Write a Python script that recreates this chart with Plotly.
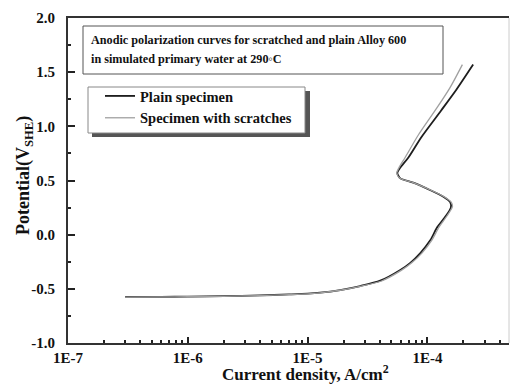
import numpy as np
import plotly.graph_objects as go

# ---- data ----
plain_i = [3.0e-7, 6e-7, 1e-6, 2e-6, 4e-6, 7e-6, 1e-5, 1.27e-5, 1.87e-5, 2.75e-5, 4.04e-5,
           5.94e-5, 7.2e-5, 8.73e-5, 1.06e-4, 1.21e-4, 1.40e-4, 1.57e-4, 1.55e-4, 1.36e-4,
           1.06e-4, 7.62e-5, 5.94e-5, 5.61e-5, 5.94e-5, 6.92e-5, 8.9e-5, 1.29e-4,
           1.75e-4, 2.41e-4]
plain_v = [-0.575, -0.574, -0.572, -0.568, -0.561, -0.552, -0.545, -0.536, -0.511, -0.474, -0.425,
           -0.326, -0.26, -0.17, -0.05, 0.07, 0.16, 0.25, 0.30, 0.35,
           0.41, 0.48, 0.52, 0.57, 0.62, 0.71, 0.90, 1.14,
           1.34, 1.57]

scr_i = [3.0e-7, 6e-7, 1e-6, 2e-6, 4e-6, 7e-6, 1e-5, 1.27e-5, 1.87e-5, 2.75e-5, 4.1e-5,
         6.05e-5, 7.4e-5, 9.0e-5, 1.09e-4, 1.25e-4, 1.45e-4, 1.62e-4, 1.58e-4, 1.38e-4,
         1.07e-4, 7.6e-5, 5.9e-5, 5.55e-5, 5.8e-5, 6.5e-5, 8.4e-5, 1.2e-4,
         1.55e-4, 1.96e-4]
scr_v = [-0.577, -0.575, -0.573, -0.569, -0.562, -0.553, -0.546, -0.537, -0.513, -0.477, -0.43,
         -0.33, -0.26, -0.17, -0.05, 0.07, 0.17, 0.26, 0.30, 0.35,
         0.41, 0.48, 0.52, 0.57, 0.62, 0.71, 0.92, 1.17,
         1.36, 1.57]

x_tick_vals = [1e-7, 1e-6, 1e-5, 1e-4]
x_tick_text = ["1E-7", "1E-6", "1E-5", "1E-4"]
y_tick_vals = [-1.0, -0.5, 0.0, 0.5, 1.0, 1.5, 2.0]
y_tick_text = ["-1.0", "-0.5", "0.0", "0.5", "1.0", "1.5", "2.0"]

title_lines = ["Anodic polarization curves for scratched and plain Alloy 600",
               "in simulated primary water at 290\u25e6C"]
series_names = ["Plain specimen", "Specimen with scratches"]
x_title = "Current density, A/cm<sup>2</sup>"
y_title = "Potential(V<sub>SHE</sub>)"

FONT = "Liberation Serif, Times New Roman, serif"

minor_x = [m * 10.0 ** e for e in range(-7, -3) for m in range(2, 10)]
minor_x = [v for v in minor_x if v < 4.9e-4]

fig = go.Figure()
fig.add_trace(go.Scatter(x=plain_i, y=plain_v, mode="lines", name="<b>%s</b>" % series_names[0],
                         line=dict(color="#1e1e1e", width=1.8, shape="spline", smoothing=0.7),
                         legendgroup="a"))
fig.add_trace(go.Scatter(x=scr_i, y=scr_v, mode="lines", name="<b>%s</b>" % series_names[1],
                         line=dict(color="#a0a0a0", width=1.3, shape="spline", smoothing=0.7),
                         legendgroup="b"))

def px2x(px):
    return (px - 68) / 441.0

def px2y(py):
    return (343 - py) / 325.0

shapes = [
    dict(type="rect", xref="paper", yref="paper", x0=px2x(83), x1=px2x(443),
         y0=px2y(74), y1=px2y(26), line=dict(color="#555", width=1), fillcolor="white", layer="below"),
    dict(type="rect", xref="paper", yref="paper", x0=px2x(92), x1=px2x(310),
         y0=px2y(137), y1=px2y(91), line=dict(width=0), fillcolor="#555", layer="below"),
    dict(type="rect", xref="paper", yref="paper", x0=px2x(88), x1=px2x(305),
         y0=px2y(133), y1=px2y(87), line=dict(color="#888", width=1), fillcolor="white", layer="below"),
    dict(type="line", xref="paper", yref="paper", x0=1, x1=1, y0=0, y1=1,
         line=dict(color="#cccccc", width=1)),
]

annotations = [
    dict(text="<b>%s</b>" % title_lines[0], xref="paper", yref="paper", x=px2x(89), y=px2y(40),
         xanchor="left", yanchor="middle", showarrow=False,
         font=dict(family=FONT, size=12.2, color="#111")),
    dict(text="<b>%s</b>" % title_lines[1], xref="paper", yref="paper", x=px2x(89), y=px2y(59),
         xanchor="left", yanchor="middle", showarrow=False,
         font=dict(family=FONT, size=12.2, color="#111")),
    dict(text="<b>%s</b>" % x_title, xref="paper", yref="paper", x=px2x(305), y=px2y(373),
         xanchor="center", yanchor="middle", showarrow=False,
         font=dict(family=FONT, size=17, color="#111")),
    dict(text="<b>%s</b>" % y_title, xref="paper", yref="paper", x=px2x(24), y=px2y(176),
         xanchor="center", yanchor="middle", showarrow=False, textangle=-90,
         font=dict(family=FONT, size=18, color="#111")),
]

fig.update_layout(
    width=510, height=387,
    margin=dict(l=68, r=1, t=18, b=44),
    paper_bgcolor="white", plot_bgcolor="white",
    showlegend=True,
    legend=dict(x=px2x(100), y=px2y(80), xanchor="left", yanchor="top",
                bgcolor="rgba(0,0,0,0)", borderwidth=0, itemwidth=30,
                traceorder="grouped", tracegroupgap=0,
                font=dict(family=FONT, size=14.5, color="#111")),
    shapes=shapes, annotations=annotations,
    font=dict(family=FONT, color="#111"),
)

fig.update_xaxes(
    type="log", range=[-7, np.log10(4.8e-4)], autorange=False,
    tickmode="array", tickvals=x_tick_vals, ticktext=["<b>%s</b>" % t for t in x_tick_text],
    ticks="inside", ticklen=6, tickwidth=1.5, tickcolor="#222",
    minor=dict(tickmode="array", tickvals=minor_x, ticks="inside", ticklen=3,
               tickwidth=1.5, tickcolor="#222", showgrid=False),
    showline=True, linecolor="#333", linewidth=2, mirror=True,
    showgrid=False, zeroline=False,
    tickfont=dict(family=FONT, size=15, color="#111"),
    automargin=False,
)
fig.update_yaxes(
    range=[-1.0, 2.0], autorange=False,
    tickmode="array", tickvals=y_tick_vals, ticktext=["<b>%s</b>" % t for t in y_tick_text],
    ticks="inside", ticklen=7, tickwidth=1.5, tickcolor="#222",
    minor=dict(dtick=0.25, tick0=0, ticks="inside", ticklen=3, tickwidth=1.5,
               tickcolor="#222", showgrid=False),
    showline=True, linecolor="#333", linewidth=2,
    showgrid=False, zeroline=False, ticklabelstandoff=8,
    tickfont=dict(family=FONT, size=15, color="#111"),
    automargin=False,
)

fig.write_html("out.html")
